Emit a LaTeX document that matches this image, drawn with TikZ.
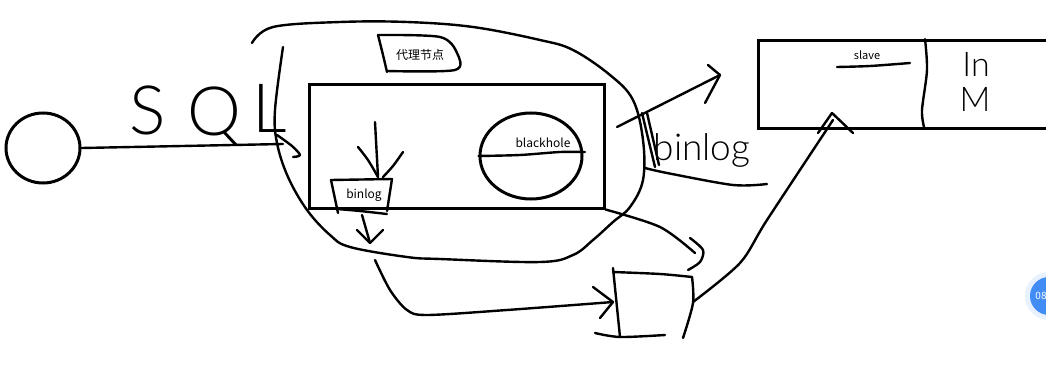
\documentclass[tikz,border=0pt]{standalone}
\usepackage{fontspec}
\setmainfont{Noto Sans CJK SC}
\newfontfamily\handfont{Lato Light}
\usetikzlibrary{shapes.geometric}
\definecolor{badge}{RGB}{66,140,246}
\tikzset{
	pen/.style={line width=2.4pt, line cap=round, line join=round},
	frame/.style={draw, line width=3pt, inner sep=0pt},
	tag/.style={font=\fontsize{12}{14}\selectfont, inner sep=0pt},
	hand/.style={font=\handfont\fontsize{#1}{#1}\selectfont, inner sep=0pt},
}

\begin{document}
\begin{tikzpicture}[x=1pt, y=-1pt]
		%%%%% START %%%%%
		\useasboundingbox (0,0) rectangle (1046,369);
		
		% client and the sql line
		\node[frame, ellipse, minimum width=74pt, minimum height=70pt] (client) at (43,148) {};
		\coordinate (sqlend) at (283,144);
		\draw[pen] (client.east) -- (sqlend);
		\draw[pen] plot[smooth] coordinates {(277,135) (292,146) (300,155) (293,157)};
		\node[hand=68] (sqlS) at (148,110) {S};
		\node[hand=68] (sqlQ) at (214,116) {Q};
		\node[hand=68] (sqlL) at (270,108) {L};
		
		% the proxy and its outline
		\draw[pen] plot[smooth, tension=0.6] coordinates {(252,43) (273,27) (340,22) (407,22) (473,27) (540,40) (573,50) (610,75) (633,100) (643,140) (643,180) (630,207) (613,222) (593,240) (573,255) (540,262) (440,259) (407,257) (350,247) (330,235) (307,210) (288,177) (277,143) (275,110) (283,47)};
		\node[frame, minimum width=295pt, minimum height=124pt] (proxy) at (456.5,146) {};
		\draw[pen] plot[smooth] coordinates {(378,35) (383,55) (387,72)};
		\draw[pen] plot[smooth] coordinates {(378,35) (440,37) (457,53) (455,70) (387,71)};
		\node[tag] (proxylabel) at (420,55) {代理节点};
		
		% blackhole
		\node[frame, ellipse, minimum width=102pt, minimum height=86pt] (hole) at (531,156) {};
		\draw[pen] plot[smooth] coordinates {(hole.west) (520,155) (560,152) (585,152)};
		\node[tag] (holelabel) at (543,143) {blackhole};
		
		% local binlog
		\draw[pen] (375,122) -- (378,177);
		\draw[pen] plot[smooth] coordinates {(358,147) (368,160) (378,177)};
		\draw[pen] plot[smooth] coordinates {(403,152) (393,166) (383,177)};
		\draw[pen] (331,180) -- (392,179) -- (387,211);
		\draw[pen] (331,180) -- (338,213);
		\draw[pen] plot[smooth] coordinates {(337,209) (360,211) (387,214)};
		\node[tag] (binlogin) at (364,195) {binlog};
		\draw[pen] (362,215) -- (370,243);
		\draw[pen] (357,230) -- (370,243) -- (383,230);
		
		% relay box
		\coordinate (relay) at (613,302);
		\draw[pen] plot[smooth] coordinates {(375,260) (390,290) (407,310) (427,315) (507,310) (relay)};
		\draw[pen] (593,287) -- (relay) -- (600,318);
		\draw[pen] (613,268) -- (620,337);
		\draw[pen] plot[smooth] coordinates {(613,272) (660,274) (692,277)};
		\draw[pen] plot[smooth] coordinates {(692,277) (693,303) (683,338)};
		\draw[pen] plot[smooth] coordinates {(595,333) (620,337) (665,335)};
		\draw[pen] plot[smooth] coordinates {(proxy.south east) (660,227) (695,253)};
		\draw[pen] plot[smooth] coordinates {(690,238) (703,250) (700,262) (688,270)};
		
		% slave
		\node[frame, minimum width=300pt, minimum height=88pt, anchor=north west] (slave) at (757,39) {};
		\draw[pen] plot[smooth] coordinates {(925,39) (927,70) (922,110) (924,127)};
		\node[tag, font=\fontsize{11}{13}\selectfont] (slavelabel) at (867,55) {slave};
		\draw[pen] plot[smooth] coordinates {(837,67) (870,66) (910,63)};
		\node[hand=34] (slaveIn) at (976,64) {In};
		\node[hand=34] (slaveM) at (975,99) {M};
		\coordinate (slavein) at (833,120);
		\draw[pen] plot[smooth] coordinates {(693,302) (740,263) (767,220) (slavein)};
		\draw[pen] (818,133) -- (832,113) -- (853,133);
		
		% binlog to slave
		\coordinate (sendtip) at (720,75);
		\draw[pen] (617,127) -- (sendtip);
		\draw[pen] (708,65) -- (sendtip) -- (705,103);
		\draw[pen] (642,113) -- (655,167);
		\draw[pen] (647,113) -- (659,165);
		\node[hand=37] (binlogout) at (702,150) {binlog};
		\draw[pen] plot[smooth] coordinates {(645,168) (667,173) (733,185) (767,184)};
		
		% clock badge
		\begin{scope}
			\clip (0,0) rectangle (1046,369);
			\fill[badge!12] (1049,296) circle (24);
			\fill[badge] (1049,296) circle (19);
			\node[text=white, font=\fontsize{10}{10}\selectfont] (clock) at (1041,296) {08};
		\end{scope}
		
		%%%%% END %%%%%
	\end{tikzpicture}
\end{document}
